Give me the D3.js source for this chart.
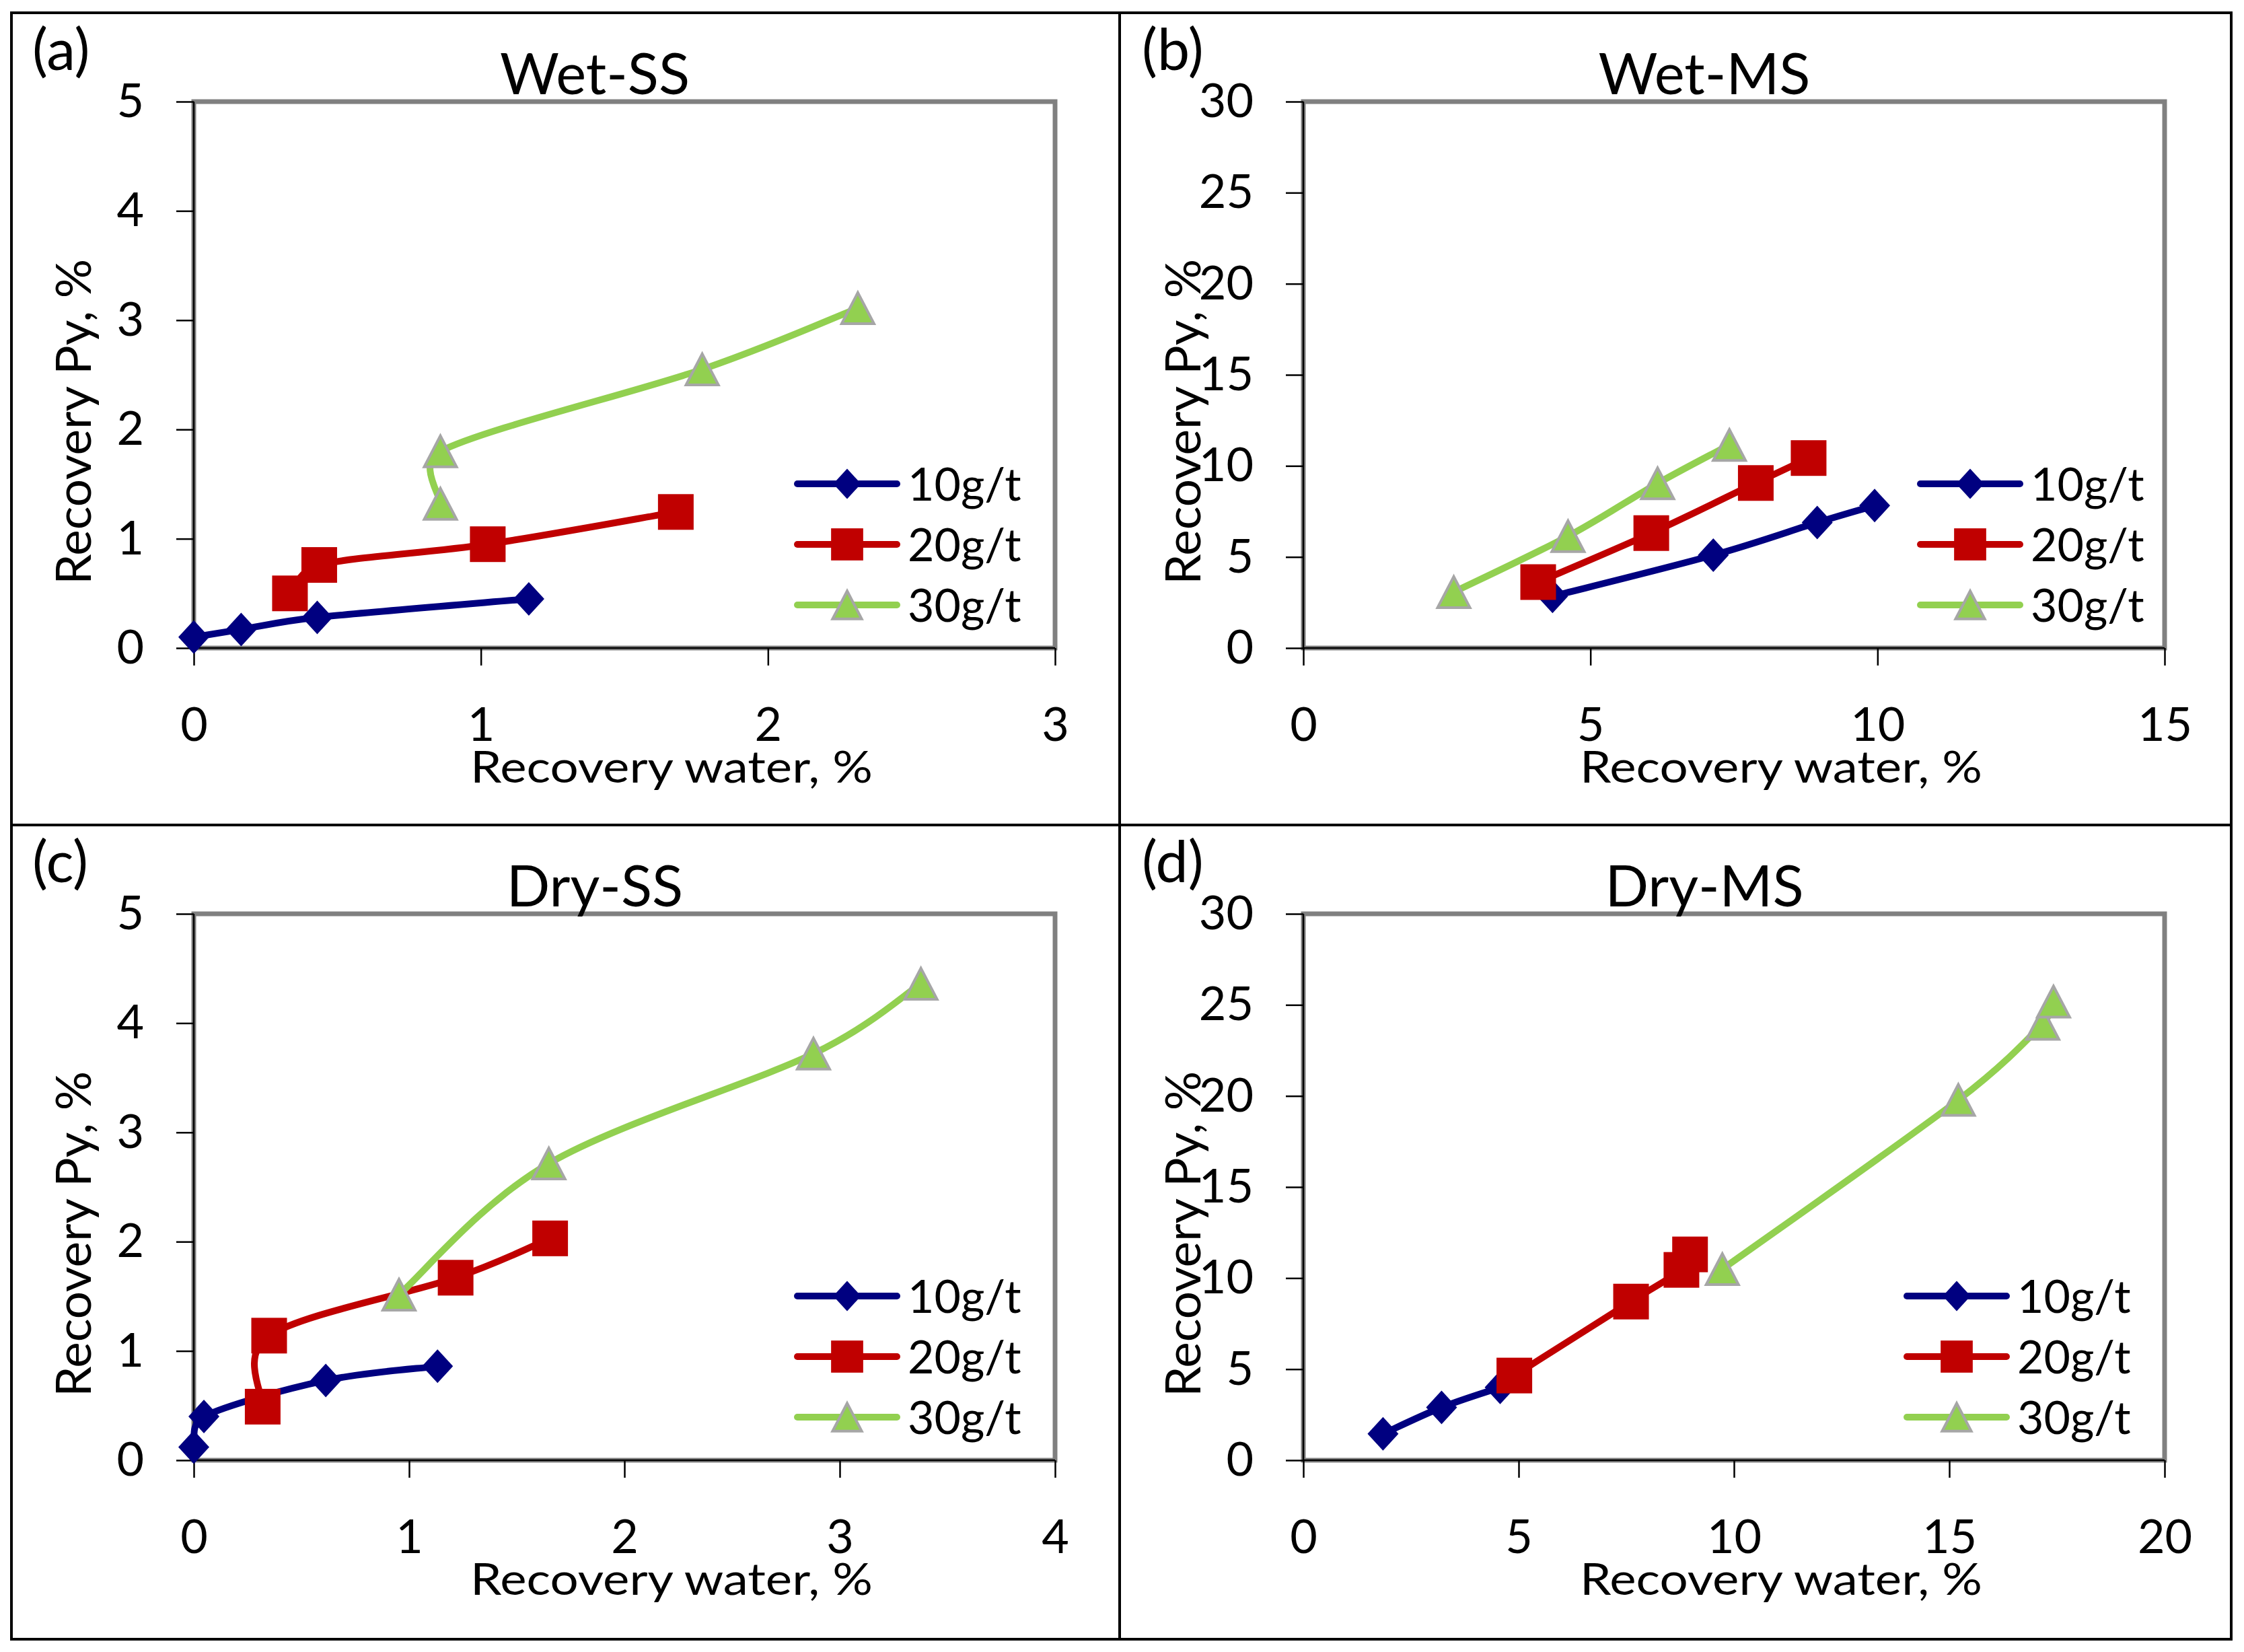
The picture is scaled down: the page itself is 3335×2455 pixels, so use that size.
<!DOCTYPE html>
<html>
<head>
<meta charset="utf-8">
<script src="https://cdn.jsdelivr.net/npm/d3@7"></script>
<style>
  body { margin: 0; background: #fff; }
  text { font-family: Lato, "Liberation Sans", sans-serif; fill: #000; }
</style>
</head>
<body>
<div id="chart_area"></div>
<script>
// series names
var seriesNames = ["10g/t", "20g/t", "30g/t"];

// (a) Wet-SS  [recovery water %, recovery Py %]
var wetSS10 = [[0, 0.10], [0.165, 0.17], [0.43, 0.28], [1.167, 0.45]];
var wetSS20 = [[0.335, 0.50], [0.437, 0.76], [1.024, 0.95], [1.679, 1.245]];
var wetSS30 = [[0.859, 1.32], [0.859, 1.80], [1.771, 2.55], [2.313, 3.11]];

// (b) Wet-MS
var wetMS10 = [[4.34, 2.84], [7.14, 5.10], [8.95, 6.89], [9.95, 7.82]];
var wetMS20 = [[4.09, 3.62], [6.06, 6.31], [7.88, 9.06], [8.80, 10.43]];
var wetMS30 = [[2.62, 3.07], [4.61, 6.14], [6.17, 9.04], [7.42, 11.15]];

// (c) Dry-SS
var drySS10 = [[0, 0.12], [0.047, 0.40], [0.613, 0.73], [1.132, 0.86]];
var drySS20 = [[0.32, 0.49], [0.35, 1.14], [1.216, 1.67], [1.655, 2.03]];
var drySS30 = [[0.953, 1.515], [1.649, 2.715], [2.878, 3.72], [3.377, 4.36]];

// (d) Dry-MS
var dryMS10 = [[1.85, 1.45], [3.21, 2.90], [4.57, 4.0]];
var dryMS20 = [[4.90, 4.65], [7.61, 8.71], [8.78, 10.45], [8.98, 11.3]];
var dryMS30 = [[9.73, 10.49], [15.21, 19.78], [17.17, 23.96], [17.42, 25.18]];

// axis ticks
var xTicksA = [0, 1, 2, 3];
var xTicksB = [0, 5, 10, 15];
var xTicksC = [0, 1, 2, 3, 4];
var xTicksD = [0, 5, 10, 15, 20];
var yTicksSS = [0, 1, 2, 3, 4, 5];
var yTicksMS = [0, 5, 10, 15, 20, 25, 30];

var colors = ["#000080", "#C00000", "#92D050"];

var svg = d3.select("#chart_area")
    .append("svg")
    .attr("width", 3335)
    .attr("height", 2455);

svg.append("rect").attr("width", 3335).attr("height", 2455).attr("fill", "#fff");

var panels = [
    { letter: "(a)", title: "Wet-SS", left: 288, top: 151, xt: xTicksA, yt: yTicksSS, data: [wetSS10, wetSS20, wetSS30], legDx: 0 },
    { letter: "(b)", title: "Wet-MS", left: 1937, top: 151, xt: xTicksB, yt: yTicksMS, data: [wetMS10, wetMS20, wetMS30], legDx: 20 },
    { letter: "(c)", title: "Dry-SS", left: 288, top: 1358, xt: xTicksC, yt: yTicksSS, data: [drySS10, drySS20, drySS30], legDx: 0 },
    { letter: "(d)", title: "Dry-MS", left: 1937, top: 1358, xt: xTicksD, yt: yTicksMS, data: [dryMS10, dryMS20, dryMS30], legDx: 0 }
];

var pw = 1280, ph = 812;

// s = 1 for plotted points, smaller for the legend
function marker(g, k, x, y, s) {
    if (k === 0) {
        var hw = 23 * s, hh = 25 * s;
        g.append("path")
            .attr("d", "M" + x + "," + (y - hh) + "L" + (x + hw) + "," + y + "L" + x + "," + (y + hh) + "L" + (x - hw) + "," + y + "Z")
            .attr("fill", colors[0]);
    } else if (k === 1) {
        var h = 26.5 * s;
        g.append("rect")
            .attr("x", x - h).attr("y", y - h)
            .attr("width", 2 * h).attr("height", 2 * h)
            .attr("fill", colors[1]);
    } else {
        var tw = 24 * s, th = 23 * s;
        g.append("path")
            .attr("d", "M" + x + "," + (y - th) + "L" + (x + tw) + "," + (y + th) + "L" + (x - tw) + "," + (y + th) + "Z")
            .attr("fill", colors[2])
            .attr("stroke", "#A6A6A6")
            .attr("stroke-width", 4);
    }
}

// spreadsheet-style smoothed line: bezier through the points,
// tangent (next - prev)/6, held to half the segment it bends
function smooth(pts) {
    var n = pts.length, path = d3.path();
    var tan = pts.map(function (p, i) {
        var a = pts[Math.max(0, i - 1)], b = pts[Math.min(n - 1, i + 1)];
        return [(b[0] - a[0]) / 6, (b[1] - a[1]) / 6];
    });
    function clamp(t, half) {
        var len = Math.hypot(t[0], t[1]);
        var f = len > half ? half / len : 1;
        return [t[0] * f, t[1] * f];
    }
    path.moveTo(pts[0][0], pts[0][1]);
    for (var i = 0; i < n - 1; i++) {
        var p0 = pts[i], p1 = pts[i + 1];
        var half = Math.hypot(p1[0] - p0[0], p1[1] - p0[1]) / 2;
        var t0 = clamp(tan[i], half), t1 = clamp(tan[i + 1], half);
        path.bezierCurveTo(p0[0] + t0[0], p0[1] + t0[1], p1[0] - t1[0], p1[1] - t1[1], p1[0], p1[1]);
    }
    return path.toString();
}

panels.forEach(function (p) {
    var x = d3.scaleLinear().domain([p.xt[0], p.xt[p.xt.length - 1]]).range([p.left, p.left + pw]);
    var y = d3.scaleLinear().domain([p.yt[0], p.yt[p.yt.length - 1]]).range([p.top + ph, p.top]);
    var g = svg.append("g");

    // plot border
    g.append("rect")
        .attr("x", p.left).attr("y", p.top)
        .attr("width", pw).attr("height", ph)
        .attr("fill", "none")
        .attr("stroke", "#808080")
        .attr("stroke-width", 7);

    // axes
    var xAxis = d3.axisBottom(x).tickValues(p.xt).tickSize(26).tickPadding(62).tickFormat(d3.format("d"));
    var yAxis = d3.axisLeft(y).tickValues(p.yt).tickSize(26).tickPadding(48).tickFormat(d3.format("d"));

    var gx = g.append("g").attr("transform", "translate(0," + (p.top + ph) + ")").call(xAxis);
    var gy = g.append("g").attr("transform", "translate(" + p.left + ",0)").call(yAxis);
    [gx, gy].forEach(function (a) {
        a.select(".domain").attr("stroke", "#000").attr("stroke-width", 2.5);
        a.selectAll(".tick line").attr("stroke", "#000").attr("stroke-width", 2.5);
        a.selectAll(".tick text").attr("font-size", 70).attr("font-family", "Lato");
    });
    gx.select(".domain").attr("d", "M" + p.left + ",0H" + (p.left + pw));
    gy.select(".domain").attr("d", "M0," + (p.top + ph) + "V" + p.top);

    // series
    p.data.forEach(function (s, k) {
        var pts = s.map(function (d) { return [x(d[0]), y(d[1])]; });
        g.append("path")
            .attr("d", smooth(pts))
            .attr("fill", "none")
            .attr("stroke", colors[k])
            .attr("stroke-width", 10)
            .attr("stroke-linejoin", "round")
            .attr("stroke-linecap", "round");
        pts.forEach(function (d) { marker(g, k, d[0], d[1], 1); });
    });

    // legend
    seriesNames.forEach(function (name, k) {
        var ly = p.top + 568 + k * 90;
        var lx = p.left + 897 + p.legDx;
        g.append("line")
            .attr("x1", lx).attr("x2", lx + 148)
            .attr("y1", ly).attr("y2", ly)
            .attr("stroke", colors[k])
            .attr("stroke-width", 10)
            .attr("stroke-linecap", "round");
        marker(g, k, lx + 74, ly, 0.9);
        g.append("text")
            .attr("x", lx + 164).attr("y", ly + 25)
            .attr("font-size", 68)
            .text(name);
    });

    // titles and labels
    g.append("text")
        .attr("x", p.left + 596).attr("y", p.top - 11)
        .attr("text-anchor", "middle")
        .attr("font-size", 85)
        .text(p.title);

    g.append("text")
        .attr("x", p.left - 240).attr("y", p.top - 47)
        .attr("font-size", 86)
        .text(p.letter);

    g.append("text")
        .attr("x", p.left + 710).attr("y", p.top + ph + 200)
        .attr("text-anchor", "middle")
        .attr("font-size", 66)
        .attr("textLength", 598)
        .attr("lengthAdjust", "spacingAndGlyphs")
        .text("Recovery water, %");

    g.append("text")
        .attr("transform", "translate(" + (p.left - 153) + "," + (p.top + 476) + ") rotate(-90)")
        .attr("text-anchor", "middle")
        .attr("font-size", 72)
        .attr("textLength", 484)
        .attr("lengthAdjust", "spacingAndGlyphs")
        .text("Recovery Py, %");
});

// outer frame and dividers
var frame = svg.append("g").attr("stroke", "#000").attr("stroke-width", 4).attr("fill", "none");
frame.append("rect").attr("x", 17).attr("y", 19).attr("width", 3299).attr("height", 2417);
frame.append("line").attr("x1", 1664).attr("x2", 1664).attr("y1", 19).attr("y2", 2436);
frame.append("line").attr("x1", 17).attr("x2", 3316).attr("y1", 1226).attr("y2", 1226);
</script>
</body>
</html>
